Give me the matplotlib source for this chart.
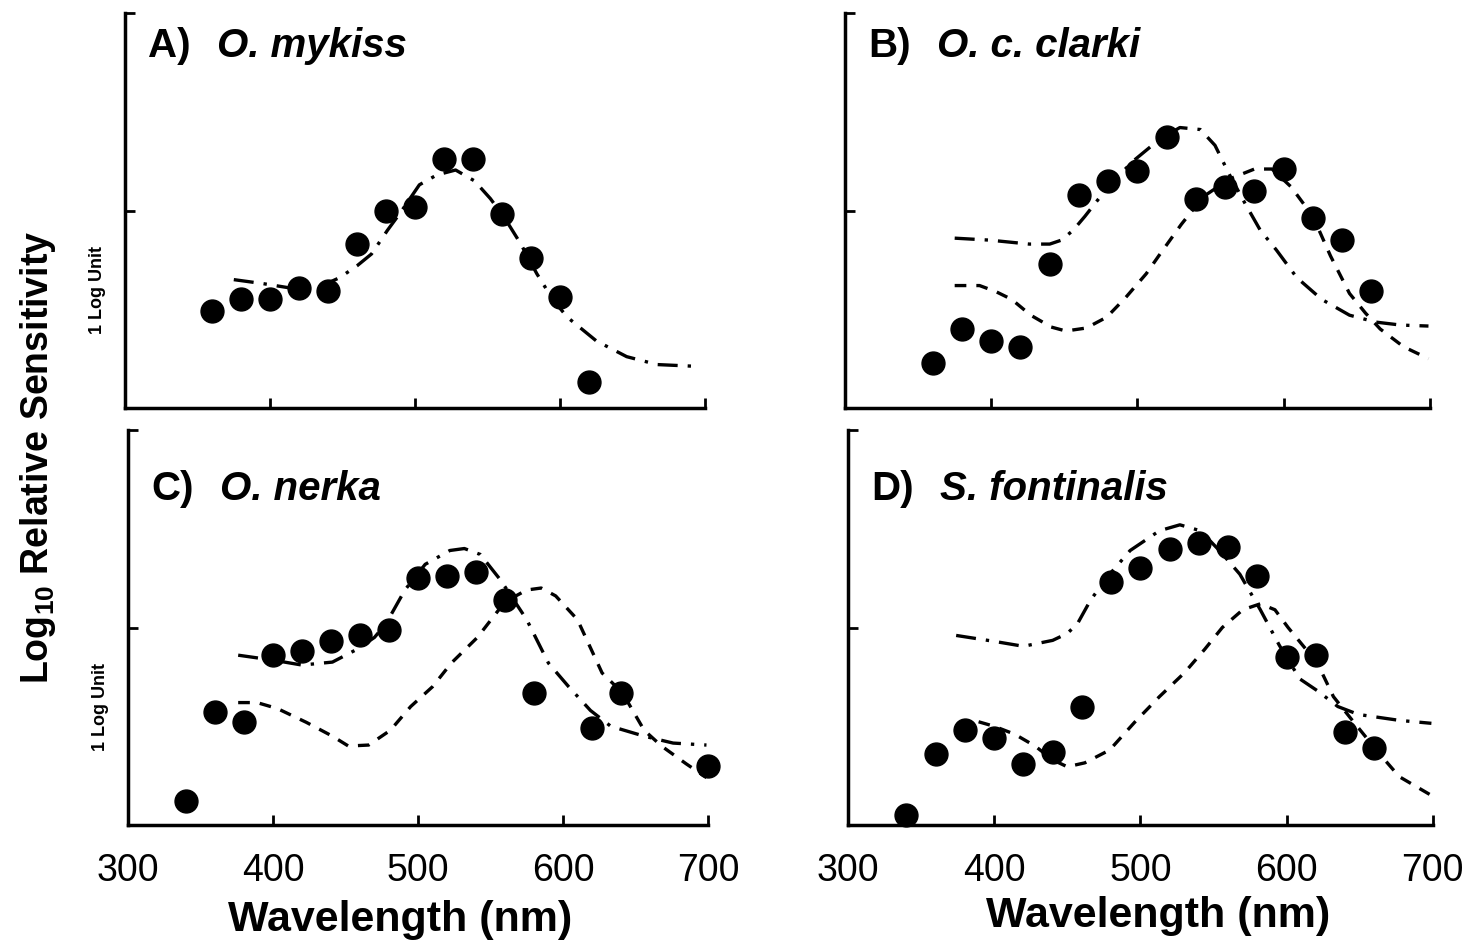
"""
Spectral sensitivity of four salmonids (log10 relative sensitivity vs wavelength).
"""
import matplotlib
matplotlib.use("Agg")
import matplotlib.pyplot as plt

plt.rcParams['font.family'] = ['Liberation Sans', 'DejaVu Sans']
plt.rcParams['mathtext.fontset'] = 'custom'
plt.rcParams['mathtext.rm'] = 'Liberation Sans:bold'
plt.rcParams['mathtext.bf'] = 'Liberation Sans:bold'

# ---- data (y in log units above the axis floor) ----
# A) O. mykiss
a_nm = [360, 380, 400, 420, 440, 460, 480, 500, 520, 540, 560, 580, 600, 620]
a_val = [0.49, 0.55, 0.55, 0.61, 0.59, 0.83, 1.00, 1.02, 1.26, 1.26, 0.98, 0.76, 0.56, 0.13]
a_mws_nm = [375, 395, 412, 430, 448, 460, 470, 481, 490, 503, 515, 528, 541, 552,
            562, 573, 584, 595, 605, 625, 646, 667, 697]
a_mws = [0.65, 0.63, 0.61, 0.60, 0.66, 0.72, 0.78, 0.90, 0.99, 1.13, 1.18, 1.205, 1.15, 1.06,
         0.96, 0.83, 0.68, 0.55, 0.46, 0.34, 0.26, 0.22, 0.21]

# B) O. c. clarki
b_nm = [360, 380, 400, 420, 440, 460, 480, 500, 520, 540, 560, 580, 600, 620, 640, 660]
b_val = [0.23, 0.40, 0.34, 0.31, 0.73, 1.08, 1.15, 1.20, 1.37, 1.06, 1.12, 1.10, 1.21, 0.96, 0.85, 0.59]
b_mws_nm = [375, 399, 426, 440, 448, 456, 464, 481, 497, 515, 529, 543, 553, 563, 574,
            584, 595, 609, 626, 645, 663, 680, 699]
b_mws = [0.86, 0.85, 0.83, 0.83, 0.85, 0.90, 0.97, 1.13, 1.25, 1.36, 1.42, 1.41, 1.33, 1.18, 1.03,
         0.90, 0.80, 0.66, 0.55, 0.47, 0.435, 0.42, 0.415]
b_lws_nm = [375, 392, 403, 414, 427, 441, 451, 465, 479, 492, 506, 515, 530, 545, 563,
            580, 592, 605, 620, 632, 645, 656, 666, 682, 699]
b_lws = [0.62, 0.62, 0.59, 0.55, 0.47, 0.41, 0.39, 0.405, 0.46, 0.56, 0.68, 0.775, 0.93, 1.07, 1.16,
         1.21, 1.21, 1.12, 0.97, 0.77, 0.58, 0.48, 0.40, 0.31, 0.25]

# C) O. nerka
c_nm = [340, 360, 380, 400, 420, 440, 460, 480, 500, 520, 540, 560, 580, 620, 640, 700]
c_val = [0.12, 0.57, 0.52, 0.86, 0.88, 0.93, 0.96, 0.99, 1.25, 1.26, 1.28, 1.14, 0.67, 0.49, 0.67, 0.30]
c_mws_nm = [376, 400, 420, 441, 458, 470, 478, 491, 505, 522, 532, 543, 557, 575, 590,
            604, 619, 633, 656, 676, 699]
c_mws = [0.86, 0.835, 0.81, 0.825, 0.89, 0.95, 1.02, 1.19, 1.32, 1.39, 1.40, 1.37, 1.24, 1.04, 0.82,
         0.70, 0.58, 0.50, 0.45, 0.415, 0.405]
c_lws_nm = [376, 389, 403, 423, 441, 452, 466, 481, 495, 510, 523, 541, 560, 575, 585,
            595, 610, 627, 641, 656, 668, 685, 699]
c_lws = [0.62, 0.62, 0.59, 0.52, 0.45, 0.40, 0.405, 0.48, 0.60, 0.70, 0.82, 0.95, 1.13, 1.19, 1.20,
         1.16, 1.04, 0.77, 0.67, 0.48, 0.40, 0.31, 0.24]

# D) S. fontinalis
d_nm = [340, 360, 380, 400, 420, 440, 460, 480, 500, 520, 540, 560, 580, 600, 620, 640, 660]
d_val = [0.05, 0.36, 0.48, 0.44, 0.31, 0.37, 0.60, 1.23, 1.30, 1.40, 1.43, 1.41, 1.26, 0.85, 0.86, 0.47, 0.39]
d_mws_nm = [374, 400, 420, 440, 450, 457, 466, 479, 493, 513, 527, 541, 554, 568, 582,
            595, 609, 621, 635, 649, 677, 699]
d_mws = [0.96, 0.93, 0.905, 0.935, 0.97, 1.02, 1.14, 1.27, 1.39, 1.49, 1.52, 1.49, 1.39, 1.27, 1.09,
         0.91, 0.74, 0.68, 0.60, 0.56, 0.53, 0.515]
d_lws_nm = [375, 386, 400, 414, 428, 440, 450, 462, 479, 496, 513, 530, 544, 556, 570,
            582, 592, 601, 621, 632, 646, 663, 677, 699]
d_lws = [0.51, 0.53, 0.50, 0.46, 0.40, 0.33, 0.295, 0.315, 0.38, 0.52, 0.65, 0.77, 0.89, 1.00, 1.09,
         1.12, 1.09, 1.00, 0.82, 0.65, 0.52, 0.365, 0.245, 0.15]

panels = [
    ("A)", "O. mykiss", a_nm, a_val, (a_mws_nm, a_mws), None),
    ("B)", "O. c. clarki", b_nm, b_val, (b_mws_nm, b_mws), (b_lws_nm, b_lws)),
    ("C)", "O. nerka", c_nm, c_val, (c_mws_nm, c_mws), (c_lws_nm, c_lws)),
    ("D)", "S. fontinalis", d_nm, d_val, (d_mws_nm, d_mws), (d_lws_nm, d_lws)),
]

# axes rectangles in figure fraction
rects = [
    [0.0853, 0.5696, 0.3956, 0.4167],
    [0.5764, 0.5696, 0.3990, 0.4167],
    [0.0873, 0.1297, 0.3956, 0.4167],
    [0.5784, 0.1297, 0.3990, 0.4167],
]
title_y = [0.889, 0.889, 0.823, 0.823]
xlabel_pos = {2: (0.469, -0.19), 3: (0.53, -0.18)}

fig = plt.figure(figsize=(14.66, 9.48), dpi=100)

for i, (lab, species, nm, val, mws, lws) in enumerate(panels):
    ax = fig.add_axes(rects[i])
    ax.plot(mws[0], mws[1], color='black', lw=2.4, linestyle=(0, (6, 3, 1, 3)), zorder=2)
    if lws is not None:
        ax.plot(lws[0], lws[1], color='black', lw=2.4, linestyle=(0, (3.5, 3)), zorder=2)
    ax.plot(nm, val, 'o', color='black', ms=16.5, zorder=3, clip_on=False)

    ax.set_xlim(300, 700)
    ax.set_ylim(0, 2)
    for s in ('top', 'right'):
        ax.spines[s].set_visible(False)
    for s in ('left', 'bottom'):
        ax.spines[s].set_linewidth(2.5)
    ax.set_xticks([300, 400, 500, 600, 700])
    ax.set_yticks([1, 2])
    ax.set_yticklabels([])
    ax.tick_params(direction='in', length=7, width=2, labelsize=27, pad=20)

    if i < 2:
        ax.set_xticklabels([])
    else:
        ax.set_xlabel("Wavelength (nm)", fontsize=31, fontweight='bold')
        ax.xaxis.set_label_coords(*xlabel_pos[i])

    ax.text(0.04, title_y[i], lab, transform=ax.transAxes, fontsize=29,
            fontweight='bold', va='baseline')
    ax.text(0.158, title_y[i], species, transform=ax.transAxes, fontsize=29,
            fontweight='bold', fontstyle='italic', va='baseline')

    if i % 2 == 0:
        ax.text(-0.048, 0.3, "1 Log Unit", transform=ax.transAxes, fontsize=13,
                fontweight='bold', rotation=90, ha='center', va='center')

fig.text(0.026, 0.518, r"$\mathbf{Log_{10}}$ Relative Sensitivity", fontsize=27,
         fontweight='bold', rotation=90, ha='center', va='center')

fig.savefig("out.png", dpi=100)
